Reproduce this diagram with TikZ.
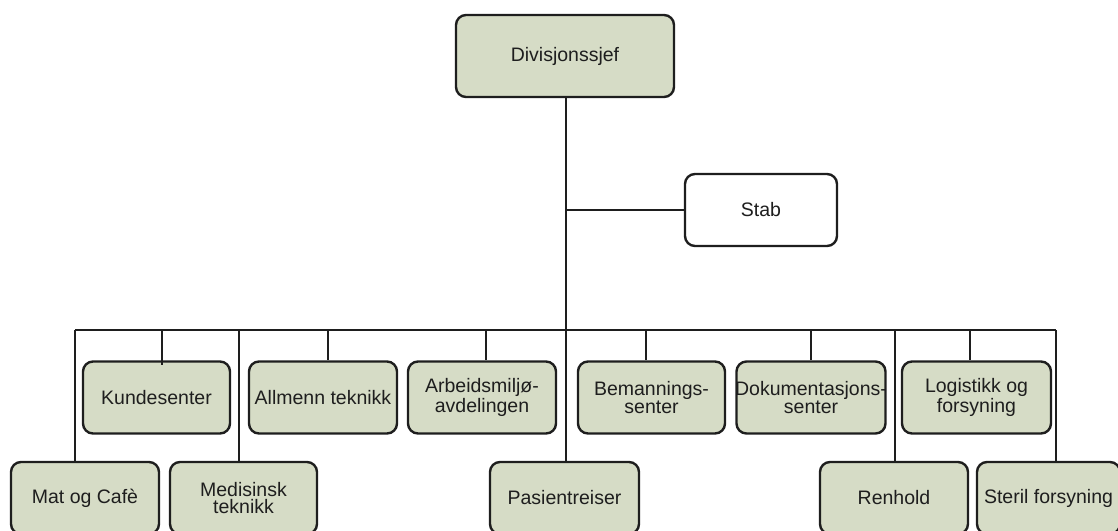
\documentclass[tikz,border=0pt]{standalone}
\usepackage{fontspec}
\setmainfont{Liberation Sans}
\definecolor{boxfill}{RGB}{214,220,198}
\definecolor{edge}{RGB}{30,30,30}
\definecolor{txt}{RGB}{30,30,30}
\tikzset{
  unit/.style={draw=edge, line width=2.4pt, rounded corners=10pt, inner sep=0pt},
  greenbox/.style={unit, fill=boxfill, minimum width=148pt, minimum height=72pt},
  whitebox/.style={unit, fill=white},
  lbl/.style={text=txt, align=center, font=\fontsize{19.5}{17.5}\selectfont, inner sep=0pt},
  conn/.style={draw=edge, line width=2.2pt},
}
\begin{document}
\begin{tikzpicture}[x=1pt,y=-1pt]
\useasboundingbox (0,0) rectangle (1118,530);
\clip (0,0) rectangle (1118,530);
% boxes
\node[greenbox, minimum width=218pt, minimum height=82pt] (div) at (565,56) {};
\node[lbl] (tdiv) at (div) {Divisjonssjef};
\node[whitebox, minimum width=152pt, minimum height=72pt] (stab) at (761,210) {};
\node[lbl] (tstab) at (stab) {Stab};
% top row
\node[greenbox, minimum width=147pt] (kunde) at (156.5,397.5) {};
\node[lbl] (tkunde) at (kunde) {Kundesenter};
\node[greenbox] (allm) at (323,397.5) {};
\node[lbl] (tallm) at (allm) {Allmenn teknikk};
\node[greenbox] (arb) at (482,397.5) {};
\node[lbl] (tarb) at (arb) {Arbeidsmiljø-\\avdelingen};
\node[greenbox, minimum width=147pt] (bem) at (651.5,397.5) {};
\node[lbl] (tbem) at (bem) {Bemannings-\\senter};
\node[greenbox, minimum width=149pt] (dok) at (811,397.5) {};
\node[lbl] (tdok) at (dok) {Dokumentasjons-\\senter};
\node[greenbox, minimum width=149pt] (log) at (976.5,397.5) {};
\node[lbl] (tlog) at (log) {Logistikk og\\forsyning};
% bottom row
\node[greenbox] (mat) at (85,498) {};
\node[lbl] (tmat) at (mat) {Mat og Cafè};
\node[greenbox, minimum width=147pt] (med) at (243.5,498) {};
\node[lbl] (tmed) at (med) {Medisinsk\\teknikk};
\node[greenbox, minimum width=149pt] (pas) at (564.5,498) {};
\node[lbl] (tpas) at (pas) {Pasientreiser};
\node[greenbox] (ren) at (894,498) {};
\node[lbl] (tren) at (ren) {Renhold};
\node[greenbox, minimum width=143pt] (ster) at (1048.5,498) {};
\node[lbl] (tster) at (ster) {Steril forsyning};
% coordinates
\coordinate (busL) at (75,330);
\coordinate (busR) at (1056,330);
\coordinate (trunk) at (566,330);
\coordinate (stabj) at (566,210);
% connectors
\draw[conn] (div.south -| trunk) -- (trunk);
\draw[conn] (stabj) -- (stab.west);
\draw[conn] (busL) -- (busR);
\draw[conn] (162,330) coordinate (sk) -- ([yshift=-5pt]sk |- kunde.north);
\draw[conn] (328,330) coordinate (sa) -- (sa |- allm.north);
\draw[conn] (486,330) coordinate (sb) -- (sb |- arb.north);
\draw[conn] (646,330) coordinate (sc) -- (sc |- bem.north);
\draw[conn] (811,330) coordinate (sd) -- (sd |- dok.north);
\draw[conn] (970,330) coordinate (se) -- (se |- log.north);
\draw[conn] (busL) -- (busL |- mat.north);
\draw[conn] (239,330) coordinate (sm) -- (sm |- med.north);
\draw[conn] (trunk) -- (trunk |- pas.north);
\draw[conn] (895,330) coordinate (sr) -- (sr |- ren.north);
\draw[conn] (busR) -- (busR |- ster.north);
\end{tikzpicture}
\end{document}
